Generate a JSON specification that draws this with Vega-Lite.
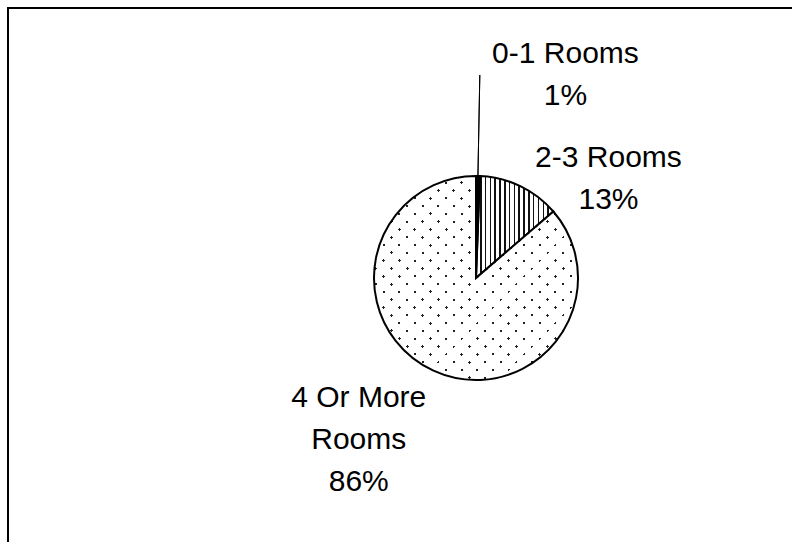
{
  "$schema": "https://vega.github.io/schema/vega-lite/v6.json",
  "width": 792,
  "height": 542,
  "autosize": {"type": "fit", "contains": "padding"},
  "padding": {"left": 8, "top": 8, "right": 0, "bottom": 0},
  "background": "white",
  "view": {"stroke": "#000000", "strokeWidth": 2, "strokeDash": [784, 1318, 534], "fill": "white"},
  "config": {"view": {"stroke": "#000000", "strokeWidth": 2, "strokeDash": [784, 1318, 534]}},
  "data": {"values": [
    {"rooms": "0-1 Rooms", "share": 0.6, "label": "0-1 Rooms\n1%"},
    {"rooms": "2-3 Rooms", "share": 13.1, "label": "2-3 Rooms\n13%"},
    {"rooms": "4 Or More Rooms", "share": 86.3, "label": "4 Or More\nRooms\n86%"}
  ]},
  "encoding": {
    "theta": {"field": "share", "type": "quantitative", "stack": true}
  },
  "layer": [
    {
      "mark": {"type": "arc", "radius": 102, "x": 468, "y": 270, "strokeWidth": 0},
      "encoding": {
        "fill": {
          "condition": [
            {"test": "datum.rooms === '0-1 Rooms'", "value": "#000000"},
            {"test": "datum.rooms === '2-3 Rooms'", "value": {"gradient": "linear", "x1": 0, "y1": 0, "x2": 1, "y2": 0, "stops": [
              {"offset": 0, "color": "#ffffff"},
              {"offset": 0.0524, "color": "#ffffff"}, {"offset": 0.0524, "color": "#111111"}, {"offset": 0.0718, "color": "#111111"}, {"offset": 0.0718, "color": "#ffffff"},
              {"offset": 0.1145, "color": "#ffffff"}, {"offset": 0.1145, "color": "#111111"}, {"offset": 0.1339, "color": "#111111"}, {"offset": 0.1339, "color": "#ffffff"},
              {"offset": 0.1766, "color": "#ffffff"}, {"offset": 0.1766, "color": "#111111"}, {"offset": 0.1960, "color": "#111111"}, {"offset": 0.1960, "color": "#ffffff"},
              {"offset": 0.2387, "color": "#ffffff"}, {"offset": 0.2387, "color": "#111111"}, {"offset": 0.2581, "color": "#111111"}, {"offset": 0.2581, "color": "#ffffff"},
              {"offset": 0.3008, "color": "#ffffff"}, {"offset": 0.3008, "color": "#111111"}, {"offset": 0.3202, "color": "#111111"}, {"offset": 0.3202, "color": "#ffffff"},
              {"offset": 0.3629, "color": "#ffffff"}, {"offset": 0.3629, "color": "#111111"}, {"offset": 0.3823, "color": "#111111"}, {"offset": 0.3823, "color": "#ffffff"},
              {"offset": 0.4250, "color": "#ffffff"}, {"offset": 0.4250, "color": "#111111"}, {"offset": 0.4444, "color": "#111111"}, {"offset": 0.4444, "color": "#ffffff"},
              {"offset": 0.4871, "color": "#ffffff"}, {"offset": 0.4871, "color": "#111111"}, {"offset": 0.5065, "color": "#111111"}, {"offset": 0.5065, "color": "#ffffff"},
              {"offset": 0.5492, "color": "#ffffff"}, {"offset": 0.5492, "color": "#111111"}, {"offset": 0.5686, "color": "#111111"}, {"offset": 0.5686, "color": "#ffffff"},
              {"offset": 0.6113, "color": "#ffffff"}, {"offset": 0.6113, "color": "#111111"}, {"offset": 0.6307, "color": "#111111"}, {"offset": 0.6307, "color": "#ffffff"},
              {"offset": 0.6734, "color": "#ffffff"}, {"offset": 0.6734, "color": "#111111"}, {"offset": 0.6928, "color": "#111111"}, {"offset": 0.6928, "color": "#ffffff"},
              {"offset": 0.7355, "color": "#ffffff"}, {"offset": 0.7355, "color": "#111111"}, {"offset": 0.7549, "color": "#111111"}, {"offset": 0.7549, "color": "#ffffff"},
              {"offset": 0.7976, "color": "#ffffff"}, {"offset": 0.7976, "color": "#111111"}, {"offset": 0.8170, "color": "#111111"}, {"offset": 0.8170, "color": "#ffffff"},
              {"offset": 0.8597, "color": "#ffffff"}, {"offset": 0.8597, "color": "#111111"}, {"offset": 0.8791, "color": "#111111"}, {"offset": 0.8791, "color": "#ffffff"},
              {"offset": 0.9218, "color": "#ffffff"}, {"offset": 0.9218, "color": "#111111"}, {"offset": 0.9412, "color": "#111111"}, {"offset": 0.9412, "color": "#ffffff"},
              {"offset": 1, "color": "#ffffff"}
            ]}}
          ],
          "value": {"gradient": "linear", "x1": 0, "y1": 0, "x2": 1, "y2": 1, "stops": [
            {"offset": 0, "color": "#ffffff"},
            {"offset": 0.1514, "color": "#ffffff"}, {"offset": 0.1514, "color": "#222222"}, {"offset": 0.1584, "color": "#222222"}, {"offset": 0.1584, "color": "#ffffff"},
            {"offset": 0.1896, "color": "#ffffff"}, {"offset": 0.1896, "color": "#222222"}, {"offset": 0.1966, "color": "#222222"}, {"offset": 0.1966, "color": "#ffffff"},
            {"offset": 0.2279, "color": "#ffffff"}, {"offset": 0.2279, "color": "#222222"}, {"offset": 0.2349, "color": "#222222"}, {"offset": 0.2349, "color": "#ffffff"},
            {"offset": 0.2661, "color": "#ffffff"}, {"offset": 0.2661, "color": "#222222"}, {"offset": 0.2731, "color": "#222222"}, {"offset": 0.2731, "color": "#ffffff"},
            {"offset": 0.3043, "color": "#ffffff"}, {"offset": 0.3043, "color": "#222222"}, {"offset": 0.3113, "color": "#222222"}, {"offset": 0.3113, "color": "#ffffff"},
            {"offset": 0.3426, "color": "#ffffff"}, {"offset": 0.3426, "color": "#222222"}, {"offset": 0.3496, "color": "#222222"}, {"offset": 0.3496, "color": "#ffffff"},
            {"offset": 0.3808, "color": "#ffffff"}, {"offset": 0.3808, "color": "#222222"}, {"offset": 0.3878, "color": "#222222"}, {"offset": 0.3878, "color": "#ffffff"},
            {"offset": 0.4191, "color": "#ffffff"}, {"offset": 0.4191, "color": "#222222"}, {"offset": 0.4261, "color": "#222222"}, {"offset": 0.4261, "color": "#ffffff"},
            {"offset": 0.4573, "color": "#ffffff"}, {"offset": 0.4573, "color": "#222222"}, {"offset": 0.4643, "color": "#222222"}, {"offset": 0.4643, "color": "#ffffff"},
            {"offset": 0.4955, "color": "#ffffff"}, {"offset": 0.4955, "color": "#222222"}, {"offset": 0.5025, "color": "#222222"}, {"offset": 0.5025, "color": "#ffffff"},
            {"offset": 0.5338, "color": "#ffffff"}, {"offset": 0.5338, "color": "#222222"}, {"offset": 0.5408, "color": "#222222"}, {"offset": 0.5408, "color": "#ffffff"},
            {"offset": 0.5720, "color": "#ffffff"}, {"offset": 0.5720, "color": "#222222"}, {"offset": 0.5790, "color": "#222222"}, {"offset": 0.5790, "color": "#ffffff"},
            {"offset": 0.6103, "color": "#ffffff"}, {"offset": 0.6103, "color": "#222222"}, {"offset": 0.6173, "color": "#222222"}, {"offset": 0.6173, "color": "#ffffff"},
            {"offset": 0.6485, "color": "#ffffff"}, {"offset": 0.6485, "color": "#222222"}, {"offset": 0.6555, "color": "#222222"}, {"offset": 0.6555, "color": "#ffffff"},
            {"offset": 0.6867, "color": "#ffffff"}, {"offset": 0.6867, "color": "#222222"}, {"offset": 0.6937, "color": "#222222"}, {"offset": 0.6937, "color": "#ffffff"},
            {"offset": 0.7250, "color": "#ffffff"}, {"offset": 0.7250, "color": "#222222"}, {"offset": 0.7320, "color": "#222222"}, {"offset": 0.7320, "color": "#ffffff"},
            {"offset": 0.7632, "color": "#ffffff"}, {"offset": 0.7632, "color": "#222222"}, {"offset": 0.7702, "color": "#222222"}, {"offset": 0.7702, "color": "#ffffff"},
            {"offset": 0.8015, "color": "#ffffff"}, {"offset": 0.8015, "color": "#222222"}, {"offset": 0.8085, "color": "#222222"}, {"offset": 0.8085, "color": "#ffffff"},
            {"offset": 0.8397, "color": "#ffffff"}, {"offset": 0.8397, "color": "#222222"}, {"offset": 0.8467, "color": "#222222"}, {"offset": 0.8467, "color": "#ffffff"},
            {"offset": 1, "color": "#ffffff"}
          ]}
        }
      }
    },
    {
      "mark": {"type": "arc", "radius": 102, "x": 468, "y": 270, "stroke": "#000000", "strokeWidth": 2},
      "encoding": {
        "fill": {
          "condition": {"test": "datum.rooms === '4 Or More Rooms'", "value": {"gradient": "linear", "x1": 0, "y1": 1, "x2": 1, "y2": 0, "stops": [
            {"offset": 0, "color": "#ffffff"},
            {"offset": 0.1597, "color": "#ffffff"}, {"offset": 0.1597, "color": "rgba(255,255,255,0)"}, {"offset": 0.1667, "color": "rgba(255,255,255,0)"}, {"offset": 0.1667, "color": "#ffffff"},
            {"offset": 0.1979, "color": "#ffffff"}, {"offset": 0.1979, "color": "rgba(255,255,255,0)"}, {"offset": 0.2049, "color": "rgba(255,255,255,0)"}, {"offset": 0.2049, "color": "#ffffff"},
            {"offset": 0.2362, "color": "#ffffff"}, {"offset": 0.2362, "color": "rgba(255,255,255,0)"}, {"offset": 0.2432, "color": "rgba(255,255,255,0)"}, {"offset": 0.2432, "color": "#ffffff"},
            {"offset": 0.2744, "color": "#ffffff"}, {"offset": 0.2744, "color": "rgba(255,255,255,0)"}, {"offset": 0.2814, "color": "rgba(255,255,255,0)"}, {"offset": 0.2814, "color": "#ffffff"},
            {"offset": 0.3127, "color": "#ffffff"}, {"offset": 0.3127, "color": "rgba(255,255,255,0)"}, {"offset": 0.3197, "color": "rgba(255,255,255,0)"}, {"offset": 0.3197, "color": "#ffffff"},
            {"offset": 0.3509, "color": "#ffffff"}, {"offset": 0.3509, "color": "rgba(255,255,255,0)"}, {"offset": 0.3579, "color": "rgba(255,255,255,0)"}, {"offset": 0.3579, "color": "#ffffff"},
            {"offset": 0.3891, "color": "#ffffff"}, {"offset": 0.3891, "color": "rgba(255,255,255,0)"}, {"offset": 0.3961, "color": "rgba(255,255,255,0)"}, {"offset": 0.3961, "color": "#ffffff"},
            {"offset": 0.4274, "color": "#ffffff"}, {"offset": 0.4274, "color": "rgba(255,255,255,0)"}, {"offset": 0.4344, "color": "rgba(255,255,255,0)"}, {"offset": 0.4344, "color": "#ffffff"},
            {"offset": 0.4656, "color": "#ffffff"}, {"offset": 0.4656, "color": "rgba(255,255,255,0)"}, {"offset": 0.4726, "color": "rgba(255,255,255,0)"}, {"offset": 0.4726, "color": "#ffffff"},
            {"offset": 0.5039, "color": "#ffffff"}, {"offset": 0.5039, "color": "rgba(255,255,255,0)"}, {"offset": 0.5109, "color": "rgba(255,255,255,0)"}, {"offset": 0.5109, "color": "#ffffff"},
            {"offset": 0.5421, "color": "#ffffff"}, {"offset": 0.5421, "color": "rgba(255,255,255,0)"}, {"offset": 0.5491, "color": "rgba(255,255,255,0)"}, {"offset": 0.5491, "color": "#ffffff"},
            {"offset": 0.5803, "color": "#ffffff"}, {"offset": 0.5803, "color": "rgba(255,255,255,0)"}, {"offset": 0.5873, "color": "rgba(255,255,255,0)"}, {"offset": 0.5873, "color": "#ffffff"},
            {"offset": 0.6186, "color": "#ffffff"}, {"offset": 0.6186, "color": "rgba(255,255,255,0)"}, {"offset": 0.6256, "color": "rgba(255,255,255,0)"}, {"offset": 0.6256, "color": "#ffffff"},
            {"offset": 0.6568, "color": "#ffffff"}, {"offset": 0.6568, "color": "rgba(255,255,255,0)"}, {"offset": 0.6638, "color": "rgba(255,255,255,0)"}, {"offset": 0.6638, "color": "#ffffff"},
            {"offset": 0.6951, "color": "#ffffff"}, {"offset": 0.6951, "color": "rgba(255,255,255,0)"}, {"offset": 0.7021, "color": "rgba(255,255,255,0)"}, {"offset": 0.7021, "color": "#ffffff"},
            {"offset": 0.7333, "color": "#ffffff"}, {"offset": 0.7333, "color": "rgba(255,255,255,0)"}, {"offset": 0.7403, "color": "rgba(255,255,255,0)"}, {"offset": 0.7403, "color": "#ffffff"},
            {"offset": 0.7715, "color": "#ffffff"}, {"offset": 0.7715, "color": "rgba(255,255,255,0)"}, {"offset": 0.7785, "color": "rgba(255,255,255,0)"}, {"offset": 0.7785, "color": "#ffffff"},
            {"offset": 0.8098, "color": "#ffffff"}, {"offset": 0.8098, "color": "rgba(255,255,255,0)"}, {"offset": 0.8168, "color": "rgba(255,255,255,0)"}, {"offset": 0.8168, "color": "#ffffff"},
            {"offset": 0.8480, "color": "#ffffff"}, {"offset": 0.8480, "color": "rgba(255,255,255,0)"}, {"offset": 0.8550, "color": "rgba(255,255,255,0)"}, {"offset": 0.8550, "color": "#ffffff"},
            {"offset": 1, "color": "#ffffff"}
          ]}},
          "value": "transparent"
        }
      }
    },
    {
      "mark": {"type": "arc", "radius": 203, "radius2": 102, "padAngle": 0.1, "x": 468, "y": 270, "fill": "transparent", "stroke": "#000000", "strokeWidth": 1},
      "encoding": {
        "strokeOpacity": {"condition": {"test": "datum.rooms === '0-1 Rooms'", "value": 1}, "value": 0}
      }
    },
    {
      "mark": {"type": "text", "radius": 130, "x": 468, "y": 270, "dx": 87, "dy": -85, "align": "center", "baseline": "alphabetic", "font": "Liberation Sans", "fontSize": 30, "lineHeight": 42, "lineBreak": "\n", "color": "#000000"},
      "encoding": {"text": {"condition": {"test": "datum.rooms === '0-1 Rooms'", "field": "label"}, "value": ""}}
    },
    {
      "mark": {"type": "text", "radius": 130, "x": 468, "y": 270, "dx": 76, "dy": 6, "align": "center", "baseline": "alphabetic", "font": "Liberation Sans", "fontSize": 30, "lineHeight": 42, "lineBreak": "\n", "color": "#000000"},
      "encoding": {"text": {"condition": {"test": "datum.rooms === '2-3 Rooms'", "field": "label"}, "value": ""}}
    },
    {
      "mark": {"type": "text", "radius": 130, "x": 468, "y": 270, "dx": -63, "dy": 11, "align": "center", "baseline": "alphabetic", "font": "Liberation Sans", "fontSize": 30, "lineHeight": 42, "lineBreak": "\n", "color": "#000000"},
      "encoding": {"text": {"condition": {"test": "datum.rooms === '4 Or More Rooms'", "field": "label"}, "value": ""}}
    }
  ]
}
